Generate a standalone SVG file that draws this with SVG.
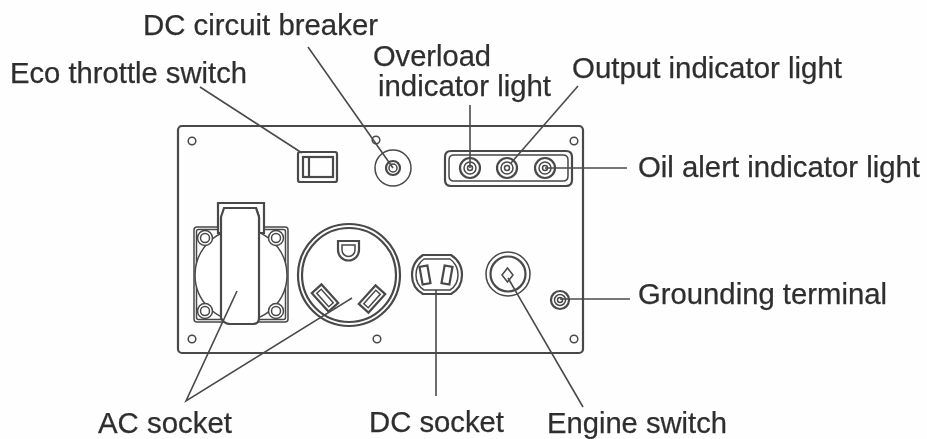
<svg xmlns="http://www.w3.org/2000/svg" width="927" height="439" viewBox="0 0 927 439">
<defs>
<style>
.s{fill:none;stroke:#484848;stroke-width:1.5}
.w{fill:#fff;stroke:#484848;stroke-width:1.5}
.t{stroke-width:2.2}
.c{fill:none;stroke:#4a4a4a;stroke-width:1.6}
text{font-family:"Liberation Sans",Arial,sans-serif;font-size:29px;fill:#2e2e2e;stroke:#2e2e2e;stroke-width:.25px}
</style>
<filter id="soft" x="0" y="0" width="1" height="1" filterUnits="objectBoundingBox"><feGaussianBlur stdDeviation="0.4"/></filter>
<g id="screw"><circle class="w" r="7.5"/><circle class="s" r="4.5"/></g>
<g id="light"><circle class="w t" r="10"/><circle class="s" r="6"/><circle class="s" r="2.5"/></g>
</defs>
<rect width="927" height="439" fill="#fefefe"/>
<g filter="url(#soft)">
<g id="panel">
<rect class="s t" x="178" y="126" width="405" height="227" rx="4"/>
<circle class="s" cx="192" cy="141" r="3.8"/>
<circle class="s" cx="192" cy="339" r="3.8"/>
<circle class="s" cx="377" cy="339" r="3.8"/>
<circle class="s" cx="574" cy="141" r="3.8"/>
<circle class="s" cx="574" cy="339" r="3.8"/>
</g>
<g id="eco-throttle-switch">
<rect class="s t" x="298" y="152" width="39" height="30" rx="2"/>
<rect class="s t" x="303" y="157" width="30" height="20"/>
<path class="s t" d="M309 157V177"/>
<text x="10" y="83" textLength="237" lengthAdjust="spacingAndGlyphs">Eco throttle switch</text>
</g>
<g id="dc-circuit-breaker">
<circle class="s" cx="376" cy="140" r="3.8"/>
<circle class="s" cx="393" cy="168" r="18"/>
<circle class="s t" cx="393" cy="168" r="7"/>
<circle class="s" cx="393" cy="168" r="4"/>
<text x="143" y="35" textLength="235" lengthAdjust="spacingAndGlyphs">DC circuit breaker</text>
</g>
<g id="indicator-bezel">
<path class="s t" d="M451 151H566Q572 151 572 157V180Q572 186 566 186H451Q445 186 445 180V157Q445 151 451 151Z"/>
<path class="s" d="M454 155H563Q568 155 568 160V176Q568 181 563 181H454Q449 181 449 176V160Q449 155 454 155Z"/>
</g>
<g id="overload-indicator-light">
<use href="#light" x="470" y="168"/>
<text x="373" y="66" textLength="118" lengthAdjust="spacingAndGlyphs">Overload</text>
<text x="378" y="96" textLength="173" lengthAdjust="spacingAndGlyphs">indicator light</text>
</g>
<g id="output-indicator-light">
<use href="#light" x="507" y="168"/>
<text x="572" y="78" textLength="270" lengthAdjust="spacingAndGlyphs">Output indicator light</text>
</g>
<g id="oil-alert-indicator-light">
<use href="#light" x="545" y="168"/>
<text x="638" y="177" textLength="282" lengthAdjust="spacingAndGlyphs">Oil alert indicator light</text>
</g>
<g id="ac-socket">
<g id="ac-socket-left">
<rect class="s" x="194" y="227" width="94" height="95" rx="3"/>
<rect class="s" x="196.500" y="229.500" width="89" height="90" rx="2"/>
<circle class="w" cx="241" cy="275" r="46"/>
<use href="#screw" x="205" y="238"/>
<use href="#screw" x="276" y="238"/>
<use href="#screw" x="205" y="311"/>
<use href="#screw" x="276" y="311"/>
<path class="w t" d="M218 233V203H264V233H259V217L256 208H226L223 217V233Z"/>
<path class="w t" d="M221 217L224 208H256L259 217V318Q259 324 253 324H230Q224 324 221 318Z"/>
</g>
<g id="ac-socket-right">
<circle class="w t" cx="349" cy="275" r="51"/>
<circle class="s t" cx="349" cy="275" r="47"/>
<path class="s t" d="M338 241H359V250A10.500 10.500 0 0 1 338 250Z"/>
<path class="s" d="M342 245H355V250A6.500 6.500 0 0 1 342 250Z"/>
<g transform="translate(325 298) rotate(48)"><rect class="s t" x="-12.500" y="-6.500" width="25" height="13"/><rect class="s" x="-9" y="-3" width="18" height="6"/></g>
<g transform="translate(372 299) rotate(-48)"><rect class="s t" x="-12.500" y="-6.500" width="25" height="13"/><rect class="s" x="-9" y="-3" width="18" height="6"/></g>
</g>
<text x="98" y="433" textLength="134" lengthAdjust="spacingAndGlyphs">AC socket</text>
</g>
<g id="dc-socket">
<path class="s t" d="M423 255H451Q462 262 462 275Q462 288 451 294H423Q412 288 412 275Q412 262 423 255Z"/>
<path class="s" d="M424 259H450Q458 265 458 275Q458 285 450 290H424Q416 285 416 275Q416 265 424 259Z"/>
<rect class="s t" x="421" y="266" width="8" height="18" transform="rotate(-10 425 275)"/>
<rect class="s t" x="443" y="266" width="8" height="18" transform="rotate(10 447 275)"/>
<text x="369" y="432" textLength="135" lengthAdjust="spacingAndGlyphs">DC socket</text>
</g>
<g id="engine-switch">
<circle class="s" cx="508" cy="274" r="22"/>
<circle class="s t" cx="508" cy="274" r="17.500"/>
<path class="s" d="M507.500 268L513 275L507.500 282L502 275Z"/>
<text x="547" y="433" textLength="180" lengthAdjust="spacingAndGlyphs">Engine switch</text>
</g>
<g id="grounding-terminal">
<circle class="s t" cx="560" cy="300" r="9"/>
<circle class="s" cx="560" cy="300" r="5.500"/>
<circle class="s" cx="560" cy="300" r="2.500"/>
<text x="638" y="304" textLength="249" lengthAdjust="spacingAndGlyphs">Grounding terminal</text>
</g>
<g id="connectors">
<path class="c" d="M200 87L302 153"/>
<path class="c" d="M308 47L393 168"/>
<path class="c" d="M470 105V168"/>
<path class="c" d="M578 86L511 163"/>
<path class="c" d="M545 168H627"/>
<path class="c" d="M560 299H630"/>
<path class="c" d="M237 291L186 401L352 298"/>
<path class="c" d="M436 290V396"/>
<path class="c" d="M508 278L583 407"/>
</g>
</g>
</svg>
